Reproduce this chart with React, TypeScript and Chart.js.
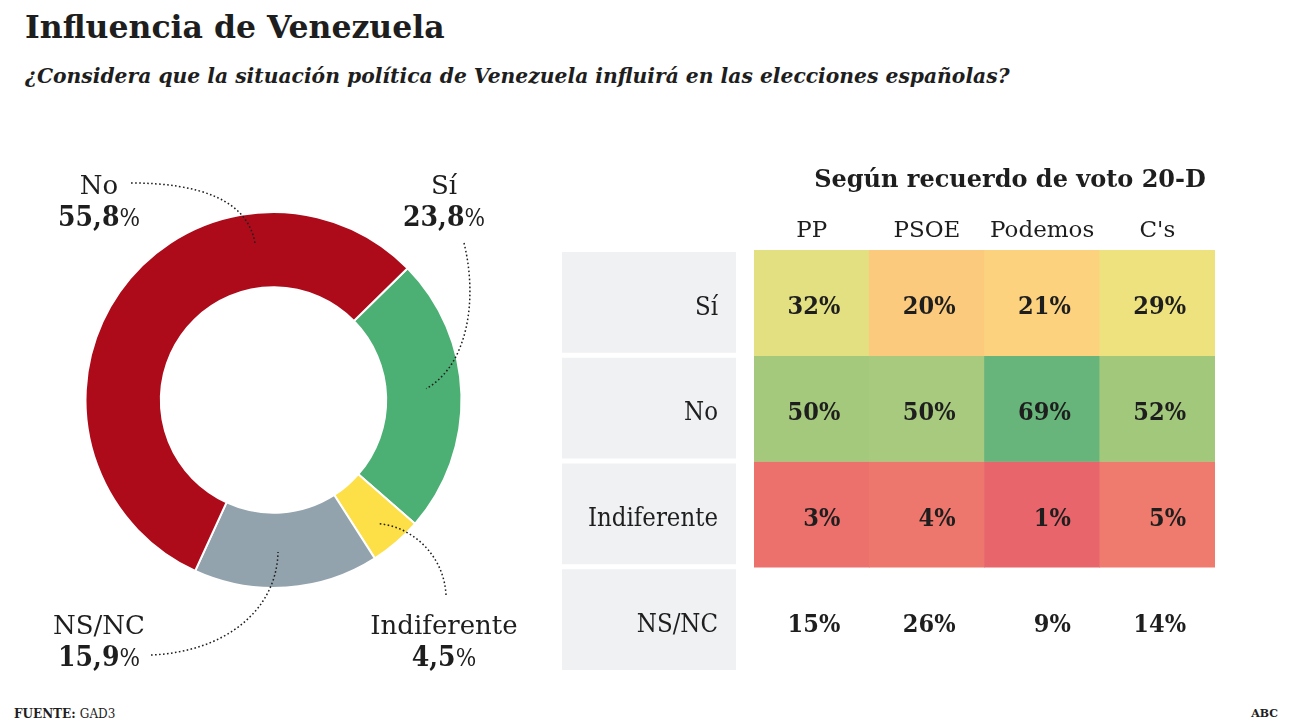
import React, { useEffect, useRef } from "react";
import { Chart, registerables } from "chart.js";

Chart.register(...registerables);

// ---------- DATA ----------
const donutLabels = ["Sí", "Indiferente", "NS/NC", "No"];
const donutValues = [23.8, 4.5, 15.9, 55.8];
const donutColors = ["#4caf73", "#fddf48", "#93a3ad", "#ad0a1a"];

const parties = ["PP", "PSOE", "Podemos", "C's"];
const rowLabels = ["Sí", "No", "Indiferente", "NS/NC"];
const rowSi = [32, 20, 21, 29];
const rowNo = [50, 50, 69, 52];
const rowIndif = [3, 4, 1, 5];
const rowNsnc = [15, 26, 9, 14];
const colorsSi = ["#e3e081", "#fbca7d", "#fcd27e", "#eee27e"];
const colorsNo = ["#a4c97d", "#a7ca7e", "#67b57a", "#a2c87c"];
const colorsIndif = ["#ec706c", "#ed776c", "#e7656b", "#ee7b6d"];
const colorsNsnc = ["rgba(0,0,0,0)", "rgba(0,0,0,0)", "rgba(0,0,0,0)", "rgba(0,0,0,0)"];

const TEXT = "#1e1e1e";
const SERIF = '"DejaVu Serif", serif';
const COND = '"DejaVu Serif Condensed", "DejaVu Serif", serif';

// label layout for donut callouts (page coords)
const calloutText = [
  { name: "Sí", value: "23,8", x: 444, y: 187 },
  { name: "Indiferente", value: "4,5", x: 444, y: 627 },
  { name: "NS/NC", value: "15,9", x: 99, y: 627 },
  { name: "No", value: "55,8", x: 99, y: 187 },
];
// leader: start point, anchor inside arc (fraction of angle, radius), control fractions
const leaders = [
  { sx: 464, sy: 243, frac: 0.47, r: 153, c: [-0.37, 0.39, -0.1, 0.84] },
  { sx: 446, sy: 595, frac: 0.51, r: 163, c: [0.03, 0.56, 0.51, 0.96] },
  { sx: 151, sy: 655, frac: 0.54, r: 152, c: [0.59, 0.03, 0.99, 0.44] },
  { sx: 131, sy: 183, frac: 0.74, r: 158, c: [0.55, 0, 0.94, 0.28] },
];

const DONUT_LEFT = 0;
const DONUT_TOP = 150;
const HEAT_LEFT = 550;
const HEAT_TOP = 150;

function DonutChart() {
  const ref = useRef<HTMLCanvasElement>(null);
  useEffect(() => {
    const canvas = ref.current!;
    const calloutPlugin = {
      id: "callouts",
      afterDraw(chart: any) {
        const ctx = chart.ctx;
        const meta = chart.getDatasetMeta(0);
        ctx.save();
        meta.data.forEach((arc: any, i: number) => {
          const p = arc.getProps(["x", "y", "startAngle", "endAngle"], true);
          const L = leaders[i];
          const a = p.startAngle + L.frac * (p.endAngle - p.startAngle);
          const ex = p.x + Math.cos(a) * L.r;
          const ey = p.y + Math.sin(a) * L.r;
          const sx = L.sx - DONUT_LEFT;
          const sy = L.sy - DONUT_TOP;
          const dx = ex - sx;
          const dy = ey - sy;
          ctx.beginPath();
          ctx.setLineDash([1.6, 2.4]);
          ctx.lineWidth = 1.5;
          ctx.strokeStyle = TEXT;
          ctx.moveTo(sx, sy);
          ctx.bezierCurveTo(
            sx + L.c[0] * dx, sy + L.c[1] * dy,
            sx + L.c[2] * dx, sy + L.c[3] * dy,
            ex, ey
          );
          ctx.stroke();
          ctx.setLineDash([]);

          const t = calloutText[i];
          const tx = t.x - DONUT_LEFT;
          const ty = t.y - DONUT_TOP;
          ctx.fillStyle = TEXT;
          ctx.textBaseline = "middle";
          ctx.textAlign = "center";
          ctx.font = `26px ${SERIF}`;
          ctx.fillText(t.name, tx, ty);
          // value: bold number + regular %
          ctx.font = `bold 28px ${COND}`;
          const wNum = ctx.measureText(t.value).width;
          ctx.font = `24px ${COND}`;
          const wPct = ctx.measureText("%").width;
          const x0 = tx - (wNum + wPct) / 2;
          ctx.textAlign = "left";
          ctx.font = `bold 28px ${COND}`;
          ctx.fillText(t.value, x0, ty + 32);
          ctx.font = `24px ${COND}`;
          ctx.fillText("%", x0 + wNum, ty + 33);
        });
        ctx.restore();
      },
    };
    const chart = new Chart(canvas, {
      type: "doughnut",
      data: {
        labels: donutLabels,
        datasets: [
          {
            data: donutValues,
            backgroundColor: donutColors,
            borderColor: "#ffffff",
            borderWidth: 2,
          },
        ],
      },
      options: {
        responsive: false,
        maintainAspectRatio: false,
        animation: false,
        rotation: 45.5,
        radius: 188,
        cutout: 113,
        layout: { padding: { left: 84, right: 87, top: 60, bottom: 100 } },
        plugins: { legend: { display: false }, tooltip: { enabled: false } },
      },
      plugins: [calloutPlugin],
    });
    return () => chart.destroy();
  }, []);
  return (
    <canvas
      ref={ref}
      width={550}
      height={540}
      style={{ position: "absolute", left: DONUT_LEFT, top: DONUT_TOP, width: 550, height: 540 }}
    />
  );
}

function HeatChart() {
  const ref = useRef<HTMLCanvasElement>(null);
  useEffect(() => {
    const canvas = ref.current!;
    const rows = [rowSi, rowNo, rowIndif, rowNsnc];
    const rowColors = [colorsSi, colorsNo, colorsIndif, colorsNsnc];
    const heatPlugin = {
      id: "heatText",
      beforeDatasetsDraw(chart: any) {
        const ctx = chart.ctx;
        const y = chart.scales.y;
        const area = chart.chartArea;
        ctx.save();
        ctx.fillStyle = "#f0f1f3";
        rowLabels.forEach((_, r) => {
          const top = y.getPixelForValue(r);
          const bot = y.getPixelForValue(r + 1);
          ctx.fillRect(area.left - 192, top + 2, 174, bot - top - 5);
        });
        ctx.restore();
      },
      afterDraw(chart: any) {
        const ctx = chart.ctx;
        const x = chart.scales.x;
        const y = chart.scales.y;
        const area = chart.chartArea;
        const colW = (area.right - area.left) / parties.length;
        ctx.save();
        ctx.fillStyle = TEXT;
        ctx.textBaseline = "middle";
        // title
        ctx.textAlign = "center";
        ctx.font = `bold 24px ${SERIF}`;
        ctx.fillText("Según recuerdo de voto 20-D", 1010 - HEAT_LEFT, 181 - HEAT_TOP);
        // headers
        ctx.font = `23px ${SERIF}`;
        parties.forEach((p, c) => {
          ctx.fillText(p, x.getPixelForValue(c), area.top - 19);
        });
        // row labels
        ctx.textAlign = "right";
        rowLabels.forEach((lab, r) => {
          const cy = (y.getPixelForValue(r) + y.getPixelForValue(r + 1)) / 2 + 5;
          ctx.font = `25.5px ${COND}`;
          ctx.fillText(lab, area.left - 36, cy);
          ctx.font = `bold 25px ${COND}`;
          rows[r].forEach((v, c) => {
            const cx = x.getPixelForValue(c) + colW / 2 - 29;
            ctx.fillText(`${v}%`, cx, cy);
          });
        });
        ctx.restore();
      },
    };
    const chart = new Chart(canvas, {
      type: "bar",
      data: {
        labels: parties,
        datasets: rows.map((vals, r) => ({
          label: rowLabels[r],
          data: vals.map(() => [r, r + 1]),
          backgroundColor: rowColors[r],
          borderWidth: 0,
          barPercentage: 1,
          categoryPercentage: 1,
          grouped: false,
        })),
      },
      options: {
        responsive: false,
        maintainAspectRatio: false,
        animation: false,
        layout: { padding: { left: 204, right: 25, top: 100, bottom: 17 } },
        scales: {
          x: { display: false },
          y: { display: false, min: 0, max: 4, reverse: true },
        },
        plugins: { legend: { display: false }, tooltip: { enabled: false } },
      },
      plugins: [heatPlugin],
    });
    return () => chart.destroy();
  }, []);
  return (
    <canvas
      ref={ref}
      width={690}
      height={540}
      style={{ position: "absolute", left: HEAT_LEFT, top: HEAT_TOP, width: 690, height: 540 }}
    />
  );
}

export default function App() {
  return (
    <div
      style={{
        position: "absolute",
        left: 0,
        top: 0,
        width: 1292,
        height: 727,
        background: "#ffffff",
        overflow: "hidden",
        color: TEXT,
        fontFamily: SERIF,
      }}
    >
      <div style={{ position: "absolute", left: 25, top: 7, fontSize: 31.5, fontWeight: "bold", whiteSpace: "nowrap", lineHeight: "40px" }}>
        Influencia de Venezuela
      </div>
      <div
        style={{
          position: "absolute",
          left: 25,
          top: 61,
          fontSize: 20.3,
          fontStyle: "italic",
          fontWeight: "bold",
          whiteSpace: "nowrap",
          lineHeight: "30px",
        }}
      >
        ¿Considera que la situación política de Venezuela influirá en las elecciones españolas?
      </div>
      <DonutChart />
      <HeatChart />
      <div style={{ position: "absolute", left: 14, top: 705, fontSize: 12, fontWeight: "bold", whiteSpace: "nowrap", lineHeight: "18px" }}>
        FUENTE: <span style={{ fontWeight: "normal" }}>GAD3</span>
      </div>
      <div style={{ position: "absolute", right: 14, top: 705, fontSize: 11, fontWeight: "bold", whiteSpace: "nowrap", lineHeight: "18px" }}>
        ABC
      </div>
    </div>
  );
}
